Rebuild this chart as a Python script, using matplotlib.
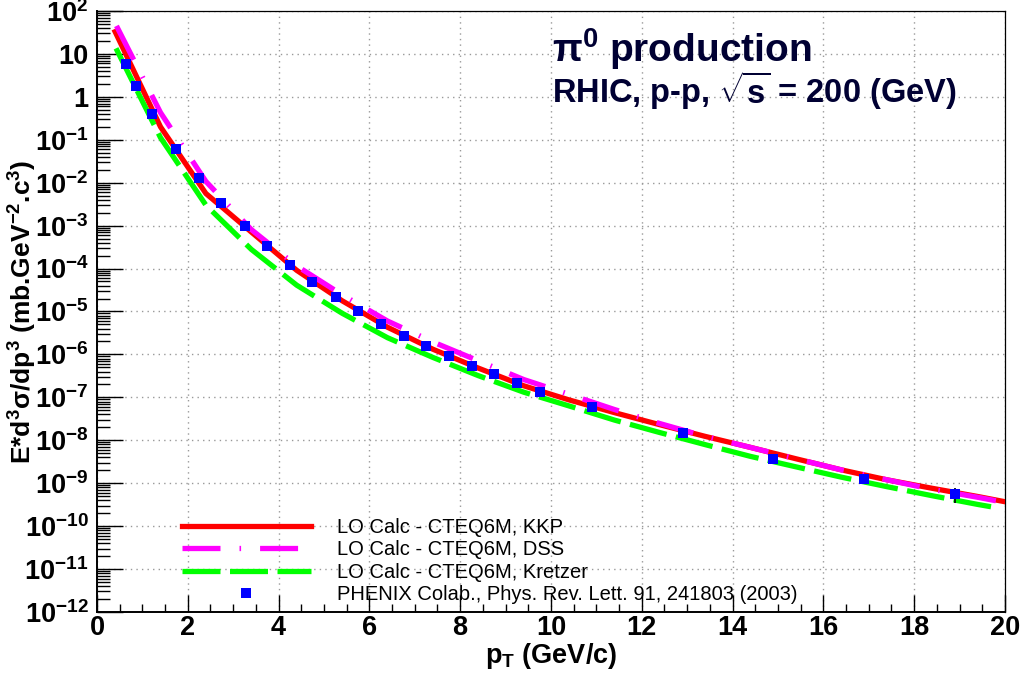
import numpy as np
import matplotlib
matplotlib.use('Agg')
import matplotlib.pyplot as plt
from matplotlib.ticker import FixedLocator, MultipleLocator, FuncFormatter, NullFormatter

plt.rcParams['font.family'] = ['Liberation Sans', 'DejaVu Sans']
plt.rcParams['mathtext.fontset'] = 'custom'
plt.rcParams['mathtext.rm'] = 'Liberation Sans'
plt.rcParams['mathtext.bf'] = 'Liberation Sans:bold'
plt.rcParams['mathtext.it'] = 'Liberation Sans:italic'

# LO calculations (pT in GeV/c, cross section in mb GeV^-2 c^3)
kkp_pt = [0.4, 1.4, 2.4, 3.4, 4.4, 5.4, 6.4, 7.4, 8.4, 9.4, 10.4, 11.4, 12.4,
          13.4, 14.4, 15.4, 16.4, 17.4, 18.4, 19.4, 20.0]
kkp_xs = [33, 0.20, 5.6e-3, 7.1e-4, 9.1e-5, 1.78e-5, 4.3e-6, 1.32e-6, 4.8e-7,
          1.86e-7, 8.7e-8, 4.4e-8, 2.3e-8, 1.23e-8, 6.8e-9, 3.7e-9, 2.04e-9,
          1.2e-9, 7.6e-10, 4.9e-10, 3.7e-10]

dss_pt = [0.43, 1.4, 2.4, 3.4, 4.4, 5.4, 6.4, 7.4, 8.4, 9.4, 10.4, 11.4, 12.4,
          13.4, 14.4, 15.4, 16.4, 17.4, 18.4, 19.4, 19.8]
dss_xs = [45, 0.43, 1.07e-2, 8.1e-4, 1.15e-4, 2.45e-5, 6.0e-6, 1.95e-6, 7.1e-7,
          2.6e-7, 1.17e-7, 5.2e-8, 2.45e-8, 1.23e-8, 6.8e-9, 3.7e-9, 2.04e-9,
          1.2e-9, 7.2e-10, 4.7e-10, 3.9e-10]

kretzer_pt = [0.42, 1.4, 2.4, 3.4, 4.4, 5.4, 6.4, 7.4, 8.4, 9.4, 10.4, 11.4, 12.4,
              13.4, 14.4, 15.4, 16.4, 17.4, 18.4, 19.4, 19.8]
kretzer_xs = [13.5, 0.112, 3.0e-3, 2.8e-4, 4.1e-5, 9.1e-6, 2.45e-6, 8.5e-7, 3.2e-7,
              1.32e-7, 6.3e-8, 2.95e-8, 1.51e-8, 7.9e-9, 4.2e-9, 2.4e-9, 1.38e-9,
              8.3e-10, 5.1e-10, 3.2e-10, 2.7e-10]

# PHENIX data
phenix_pt = [0.64, 0.87, 1.22, 1.74, 2.24, 2.74, 3.25, 3.74, 4.25, 4.74, 5.26,
             5.75, 6.25, 6.76, 7.24, 7.75, 8.25, 8.75, 9.25, 9.75, 10.9, 12.9,
             14.9, 16.9, 18.9]
phenix_xs = [5.8, 1.79, 0.40, 0.061, 0.0131, 3.4e-3, 9.8e-4, 3.4e-4, 1.21e-4,
             4.9e-5, 2.2e-5, 1.04e-5, 5.2e-6, 2.7e-6, 1.57e-6, 9.1e-7, 5.5e-7,
             3.45e-7, 2.13e-7, 1.31e-7, 5.9e-8, 1.5e-8, 3.7e-9, 1.23e-9, 5.5e-10]
phenix_err = [0.5, 0.15, 0.03, 0.005, 0.001, 2.5e-4, 7e-5, 2.5e-5, 9e-6,
              3.5e-6, 1.6e-6, 8e-7, 4e-7, 2e-7, 1.2e-7, 7e-8, 4.5e-8,
              3e-8, 1.8e-8, 1.2e-8, 6e-9, 1.8e-9, 5.5e-10, 2.7e-10, 2.1e-10]

fig = plt.figure(figsize=(10.26, 6.84), dpi=100)
ax = fig.add_axes([0.0945, 0.1053, 0.885, 0.8786])

lw = 3.8
ax.plot(kkp_pt, kkp_xs, color='#ff0000', lw=lw, solid_joinstyle='miter',
        label='LO Calc - CTEQ6M, KKP', zorder=3)
ax.plot(dss_pt, dss_xs, color='#ff00ff', lw=lw,
        linestyle=(0, (7.2, 3.6, 0.3, 3.6)),
        label='LO Calc - CTEQ6M, DSS', zorder=3)
ax.plot(kretzer_pt, kretzer_xs, color='#00ff00', lw=lw,
        linestyle=(0, (7.2, 1.8)),
        label='LO Calc - CTEQ6M, Kretzer', zorder=3)
ax.errorbar(phenix_pt, phenix_xs, yerr=phenix_err, fmt='none', ecolor='black',
            elinewidth=1.2, capsize=0, zorder=4)
ax.plot(phenix_pt, phenix_xs, 's', color='#0000ff', markersize=7.6,
        markeredgewidth=0, label='PHENIX Colab., Phys. Rev. Lett. 91, 241803 (2003)',
        zorder=5)

ax.set_yscale('log')
ax.set_xlim(0, 20)
ax.set_ylim(1e-12, 1e2)

ax.xaxis.set_major_locator(MultipleLocator(2))
ax.xaxis.set_minor_locator(MultipleLocator(0.5))
ax.yaxis.set_major_locator(FixedLocator([10.0 ** k for k in range(-12, 3)]))
ax.yaxis.set_minor_locator(FixedLocator([m * 10.0 ** k for k in range(-12, 2)
                                         for m in range(2, 10)]))
ax.yaxis.set_minor_formatter(NullFormatter())


def ylab(v, pos):
    k = int(round(np.log10(v)))
    if k == 0:
        return '1'
    if k == 1:
        return '10'
    return r'$\mathbf{10^{%d}}$' % k


ax.yaxis.set_major_formatter(FuncFormatter(ylab))

ax.tick_params(axis='both', which='both', direction='in', top=False, right=False,
               colors='black', width=1.0)
ax.tick_params(axis='x', which='major', length=12.5, pad=2, labelsize=19.5)
ax.tick_params(axis='x', which='minor', length=6)
ax.tick_params(axis='y', which='major', length=19, pad=6, labelsize=19.5)
ax.tick_params(axis='y', which='minor', length=9.5)
for lab in ax.get_xticklabels() + ax.get_yticklabels():
    lab.set_fontweight('bold')

ax.grid(True, which='major', color='#999999', linestyle=(0, (1, 3)), lw=1.0)
for s in ['left', 'bottom']:
    ax.spines[s].set_linewidth(1.4)
for s in ['top', 'right']:
    ax.spines[s].set_linewidth(0.9)

ax.set_xlabel(r'p$_{\mathbf{T}}$ (GeV/c)', fontsize=19.5, fontweight='bold')
ax.xaxis.set_label_coords(0.5, -0.048)
ax.set_ylabel(r'E*d$^{\mathbf{3}}$σ/dp$^{\mathbf{3}}$ (mb.GeV$^{\mathbf{-2}}$.c$^{\mathbf{3}}$)',
              fontsize=19, fontweight='bold')
ax.yaxis.set_label_coords(-0.064, 0.5)

ax.text(0.501, 0.915, r'π$^{\mathbf{0}}$ production', transform=ax.transAxes,
        fontsize=28, fontweight='bold', color='#000033', va='baseline')
ax.text(0.501, 0.847, r'RHIC, p-p, $\sqrt{\mathbf{s}}$ = 200 (GeV)', transform=ax.transAxes,
        fontsize=23.5, fontweight='bold', color='#000033', va='baseline')

ax.legend(loc='upper left', bbox_to_anchor=(0.0936, 0.157), frameon=False,
          fontsize=14.5, handlelength=6.4, handletextpad=1.29, labelspacing=0.18,
          borderpad=0, borderaxespad=0, numpoints=1)

fig.savefig('out.png', dpi=100)
